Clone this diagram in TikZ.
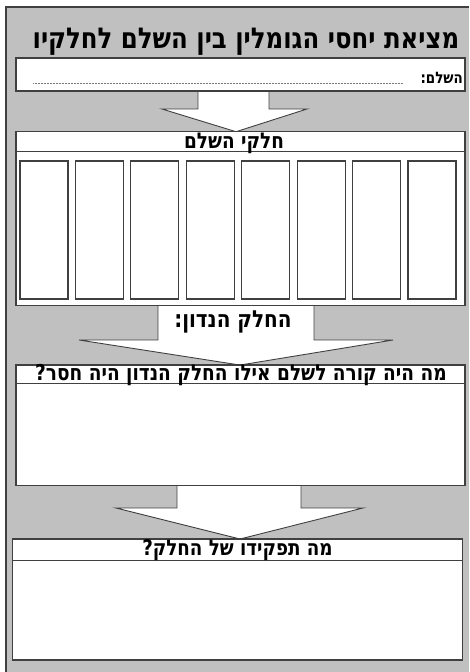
\documentclass[tikz,border=0pt]{standalone}
\usepackage{fontspec}
\setmainfont{Liberation Sans}
\newfontfamily\hebfont[Script=Hebrew, FakeStretch=0.85]{DejaVu Sans Bold}
\TeXXeTstate=1
\usetikzlibrary{backgrounds}

\definecolor{sheetgray}{HTML}{C0C0C0}
\definecolor{linegray}{HTML}{404040}

\begin{document}
\begin{tikzpicture}[x=1pt, y=-1pt,
    box/.style={draw=linegray, fill=white, line width=1.2pt, inner sep=0pt, outer sep=0pt},
    partbox/.style={box, minimum width=48pt, minimum height=138pt},
    blockarrow/.style={draw=linegray, fill=white, line width=0.9pt, line join=miter},
    heading/.style={font=\hebfont\fontsize{#1}{#1}\selectfont, inner sep=0pt, anchor=base},
    heading/.default=16]
    \useasboundingbox (0,0) rectangle (469,672);

    % Title
    \node[heading=28.7] (title) at (246,48) {\beginR מציאת יחסי הגומלין בין השלם לחלקיו\endR};

    % The whole
    \node[box, minimum width=449pt, minimum height=33pt] (whole) at (240.5,74.5) {};
    \node[heading=15.8, anchor=base east] (wholelbl) at (463,83) {\beginR השלם:\endR};
    \coordinate (dotstart) at (33,83);
    \draw[linegray!70, line width=0.6pt, dash pattern=on 0.6pt off 0.9pt, shorten >=17pt] (dotstart) -- (dotstart -| wholelbl.west);

    % Parts of the whole
    \node[box, minimum width=449pt, minimum height=174pt] (parts) at (240.5,218.7) {};
    \draw[linegray, line width=0.9pt] (parts.west |- 0,151.7) -- (parts.east |- 0,151.7);
    \node[heading=21.7] (partshead) at (234,148) {\beginR חלקי השלם\endR};
    \foreach \i in {0,...,7}
        \node[partbox] (col\i) at ({44+55.43*\i},229.9) {};

    % What would happen
    \node[box, minimum width=449pt, minimum height=120.7pt] (missing) at (240.5,425.4) {};
    \draw[linegray, line width=0.9pt] (missing.west |- 0,383.3) -- (missing.east |- 0,383.3);
    \node[heading=21.8] (missinghead) at (241,380) {\beginR מה היה קורה לשלם אילו החלק הנדון היה חסר?\endR};

    % Role of the part
    \node[box, minimum width=450pt, minimum height=121pt] (role) at (237.6,599.5) {};
    \draw[linegray, line width=0.9pt] (role.west |- 0,560) -- (role.east |- 0,560);
    \node[heading=21.5] (rolehead) at (237.5,555) {\beginR מה תפקידו של החלק?\endR};

    \begin{scope}[on background layer]
        \fill[sheetgray] (6,7) rectangle (469,672);
        \draw[linegray, line width=1.5pt] (469,7) -- (6,7) -- (6,672);
        % block arrows between the boxes
        \draw[blockarrow] (whole.south -| 198,0) -- (198,109) -- (162,109) -- (parts.north -| 236,0)
            -- (307,109) -- (269,109) -- (whole.south -| 269,0);
        \draw[blockarrow] (parts.south -| 158,0) -- (158,340) -- (79,340) -- (missing.north -| 240,0)
            -- (393,340) -- (314,340) -- (parts.south -| 314,0);
        \draw[blockarrow] (missing.south -| 177,0) -- (177,508) -- (116,508) -- (role.north -| 240,0)
            -- (363,508) -- (301,508) -- (missing.south -| 301,0);
    \end{scope}
    \node[heading=23.5] (parthead) at (233,327) {\beginR החלק הנדון:\endR};
\end{tikzpicture}
\end{document}
